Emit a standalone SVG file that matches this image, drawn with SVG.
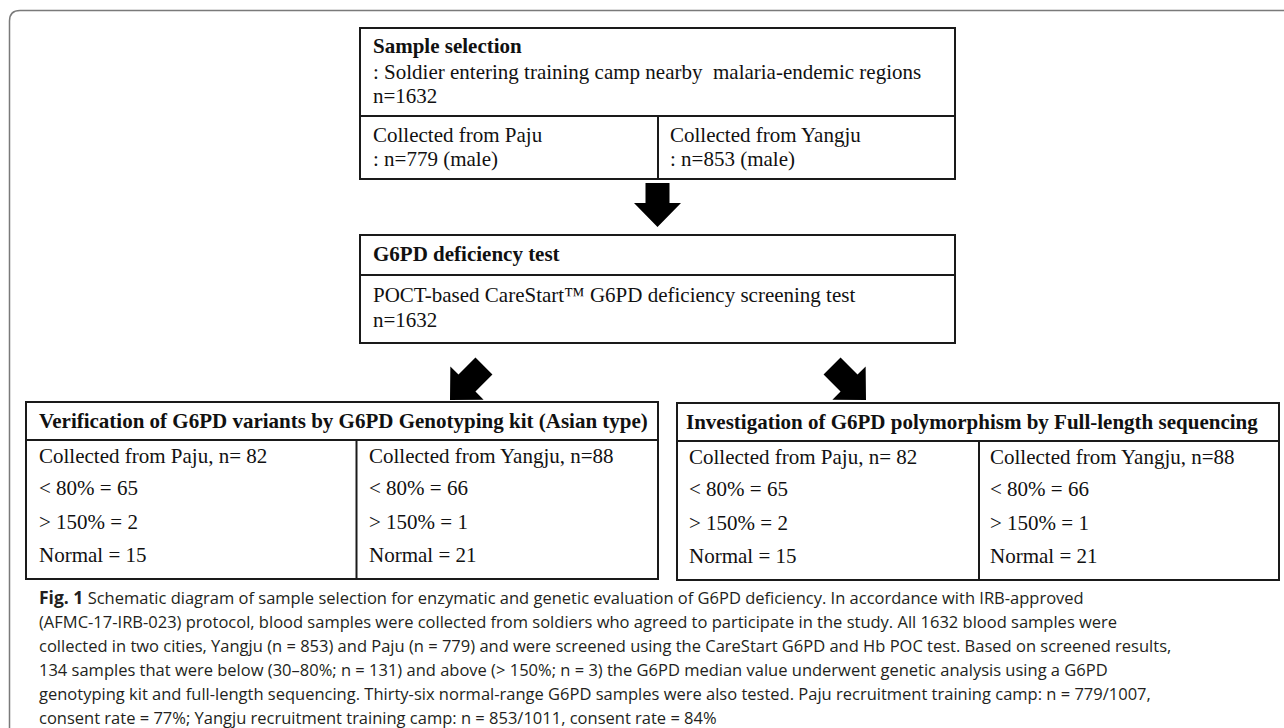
<svg xmlns="http://www.w3.org/2000/svg" width="1284" height="728" viewBox="0 0 1284 728">
<style>
.box{fill:#fff;stroke:#1a1a1a;stroke-width:2}
.ln{stroke:#1a1a1a;stroke-width:2}
.t{font-family:"Liberation Serif","Times New Roman",serif;font-size:21px;fill:#111}
.b{font-weight:bold}
.cap{font-family:"Open Sans","Noto Sans","Liberation Sans",sans-serif;font-size:16.5px;fill:#231f20}
.arr{fill:#000}
</style>
<defs>
<path id="arrow" d="M-12,-44 L12,-44 L12,-24 L23.5,-24 L0,0 L-23.5,-24 L-12,-24 Z"/>
<path id="arrowd" d="M-12,-48 L12,-48 L12,-24 L23.5,-24 L0,0 L-23.5,-24 L-12,-24 Z"/>
</defs>
<path d="M9.5,740 V21 Q9.5,10.5 20,10.5 H1300" fill="none" stroke="#7a7a7a" stroke-width="1.5"/>

<g id="sample-selection">
<rect class="box" x="360" y="28" width="595" height="151"/>
<line class="ln" x1="360" y1="116" x2="955" y2="116"/>
<line class="ln" x1="658" y1="116" x2="658" y2="179"/>
<text class="t b" x="373" y="53">Sample selection</text>
<text class="t" x="373" y="79" xml:space="preserve">: Soldier entering training camp nearby  malaria-endemic regions</text>
<text class="t" x="373" y="103">n=1632</text>
<text class="t" x="373" y="142">Collected from Paju</text>
<text class="t" x="373" y="166">: n=779 (male)</text>
<text class="t" x="670" y="142">Collected from Yangju</text>
<text class="t" x="670" y="166">: n=853 (male)</text>
</g>

<g id="g6pd-test">
<rect class="box" x="360" y="235" width="595" height="108"/>
<line class="ln" x1="360" y1="275" x2="955" y2="275"/>
<text class="t b" x="373" y="261">G6PD deficiency test</text>
<text class="t" x="373" y="302">POCT-based CareStart™ G6PD deficiency screening test</text>
<text class="t" x="373" y="327">n=1632</text>
</g>

<g id="genotyping">
<rect class="box" x="26" y="402" width="632" height="177"/>
<line class="ln" x1="26" y1="440" x2="658" y2="440"/>
<line class="ln" x1="356.5" y1="440" x2="356.5" y2="579"/>
<text class="t b" x="39" y="428">Verification of G6PD variants by G6PD Genotyping kit (Asian type)</text>
<text class="t" x="39" y="463">Collected from Paju, n= 82</text>
<text class="t" x="39" y="495">&lt; 80% = 65</text>
<text class="t" x="39" y="529">&gt; 150% = 2</text>
<text class="t" x="39" y="562">Normal = 15</text>
<text class="t" x="369" y="463">Collected from Yangju, n=88</text>
<text class="t" x="369" y="495">&lt; 80% = 66</text>
<text class="t" x="369" y="529">&gt; 150% = 1</text>
<text class="t" x="369" y="562">Normal = 21</text>
</g>

<g id="sequencing">
<rect class="box" x="677" y="403" width="602" height="177"/>
<line class="ln" x1="677" y1="441" x2="1279" y2="441"/>
<line class="ln" x1="979" y1="441" x2="979" y2="580"/>
<text class="t b" x="686" y="429">Investigation of G6PD polymorphism by Full-length sequencing</text>
<text class="t" x="689" y="464">Collected from Paju, n= 82</text>
<text class="t" x="689" y="496">&lt; 80% = 65</text>
<text class="t" x="689" y="530">&gt; 150% = 2</text>
<text class="t" x="689" y="563">Normal = 15</text>
<text class="t" x="990" y="464">Collected from Yangju, n=88</text>
<text class="t" x="990" y="496">&lt; 80% = 66</text>
<text class="t" x="990" y="530">&gt; 150% = 1</text>
<text class="t" x="990" y="563">Normal = 21</text>
</g>

<g id="connectors">
<use href="#arrow" class="arr" transform="translate(657.5,227)"/>
<use href="#arrowd" class="arr" transform="translate(450,400) rotate(45)"/>
<use href="#arrowd" class="arr" transform="translate(866,400) rotate(-45)"/>
</g>

<g id="caption">
<text class="cap" x="39" y="604"><tspan font-weight="bold" font-size="17.5">Fig. 1</tspan>  Schematic diagram of sample selection for enzymatic and genetic evaluation of G6PD deficiency. In accordance with IRB-approved</text>
<text class="cap" x="39" y="628">(AFMC-17-IRB-023) protocol, blood samples were collected from soldiers who agreed to participate in the study. All 1632 blood samples were</text>
<text class="cap" x="39" y="652">collected in two cities, Yangju (n = 853) and Paju (n = 779) and were screened using the CareStart G6PD and Hb POC test. Based on screened results,</text>
<text class="cap" x="39" y="676">134 samples that were below (30–80%; n = 131) and above (&gt; 150%; n = 3) the G6PD median value underwent genetic analysis using a G6PD</text>
<text class="cap" x="39" y="700">genotyping kit and full-length sequencing. Thirty-six normal-range G6PD samples were also tested. Paju recruitment training camp: n = 779/1007,</text>
<text class="cap" x="39" y="724">consent rate = 77%; Yangju recruitment training camp: n = 853/1011, consent rate = 84%</text>
</g>
</svg>
